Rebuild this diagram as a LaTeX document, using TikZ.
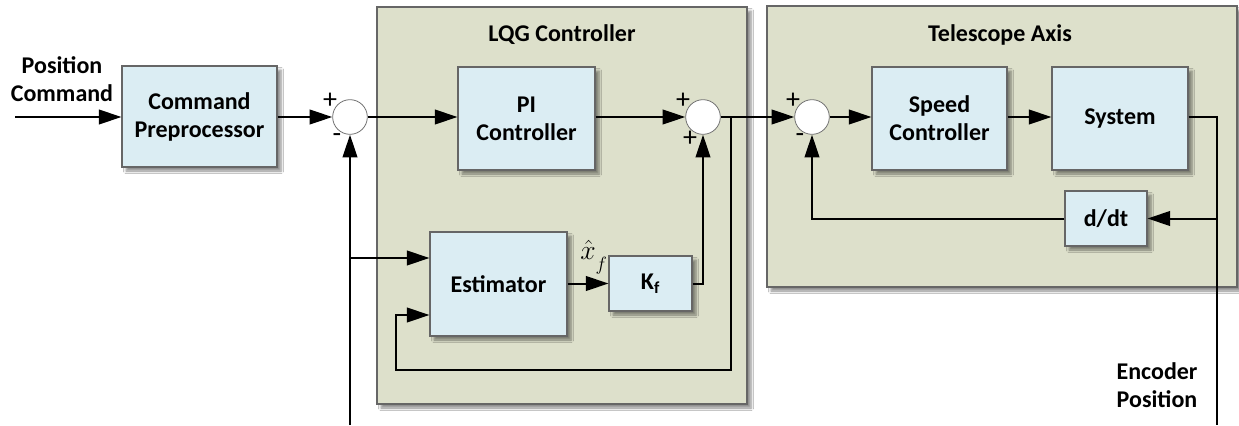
\documentclass[tikz,border=0pt]{standalone}
\usepackage{fontspec}
\setmainfont{Carlito}
\usetikzlibrary{arrows.meta,shadows.blur,calc}
\definecolor{boxblue}{RGB}{219,237,243}
\definecolor{panelgreen}{RGB}{221,224,203}
\begin{document}
\begin{tikzpicture}[x=0.75pt,y=-0.75pt,
  lbl/.style={font=\fontsize{18}{21}\selectfont\bfseries, align=center},
  box/.style={draw=black!60, line width=0.8pt, fill=boxblue, inner sep=0pt, align=center,
    font=\fontsize{18}{21}\selectfont\bfseries,
    blur shadow={shadow xshift=3pt, shadow yshift=-3pt, shadow blur steps=6, shadow opacity=45}},
  panel/.style={draw=black!60, line width=0.8pt, fill=panelgreen, inner sep=0pt,
    blur shadow={shadow xshift=3pt, shadow yshift=-3pt, shadow blur steps=6, shadow opacity=45}},
  sum/.style={circle, draw=black!55, line width=0.6pt, fill=white, minimum size=26pt, inner sep=0pt},
  sig/.style={line width=1.5pt, -{Triangle[length=17pt,width=11pt]}},
  wire/.style={line width=1.5pt},
  sgn/.style={font=\fontsize{21}{21}\selectfont, inner sep=0pt}
]
\useasboundingbox (0,0) rectangle (1239,425);
\fill[white] (0,0) rectangle (1239,425);

% panels
\node[panel, minimum width=277.5pt, minimum height=297.75pt] (lqg) at (562,205.5) {};
\node[panel, minimum width=352.5pt, minimum height=210.75pt] (tel) at (1002,146.5) {};
\node[lbl] (lqgt) at (562,35) {LQG Controller};
\node[lbl] (telt) at (1000,35) {Telescope Axis};

% blocks
\node[box, minimum width=116.25pt, minimum height=75.75pt] (cp) at (199.5,116.5) {Command\\Preprocessor};
\node[box, minimum width=102.75pt, minimum height=77.25pt] (pi) at (526.5,118.5) {PI\\Controller};
\node[box, minimum width=102.75pt, minimum height=78pt] (est) at (498.5,284) {Estimator};
\node[box, minimum width=62.25pt, minimum height=41.25pt] (kf) at (650.5,283.5) {K\textsubscript{f}};
\node[box, minimum width=101.25pt, minimum height=77.25pt] (sc) at (939.5,118.5) {Speed\\Controller};
\node[box, minimum width=102pt, minimum height=77.25pt] (sys) at (1120,118.5) {System};
\node[box, minimum width=61.5pt, minimum height=41.25pt] (ddt) at (1106,218.5) {d/dt};

% summing junctions
\node[sum] (s1) at (350,117) {};
\node[sum] (s2) at (703,117) {};
\node[sum] (s3) at (812,117) {};

% signs
\node[sgn] (s1p) at (330,101) {+};
\node[sgn] (s1m) at (337,138) {-};
\node[sgn] (s2p) at (683,101) {+};
\node[sgn] (s2q) at (690,139) {+};
\node[sgn] (s3p) at (793,101) {+};
\node[sgn] (s3m) at (800,138) {-};

% labels
\node[lbl] (poscmd) at (62,79) {Position\\Command};
\node[lbl] (encpos) at (1157,385) {Encoder\\Position};
\node[inner sep=0pt] (xhat) at (594,257) {\fontsize{22}{22}\selectfont$\hat{x}_{\raisebox{-5pt}{$\scriptstyle f$}}$};

% coordinates
\coordinate (in) at (15,117);
\coordinate (botR) at (1217,425);
\coordinate (botL) at (350,425);
\coordinate (e1) at (350,258);
\coordinate (j2) at (731,117);
\coordinate (lbR) at (731,370);
\coordinate (lbL) at (396,370);
\coordinate (lbU) at (396,315);

% connectors
\draw[sig] (in) -- (cp.west |- in);
\draw[sig] (cp.east |- s1) -- (s1.west);
\draw[sig] (s1.east) -- (pi.west |- s1);
\draw[sig] (pi.east |- s2) -- (s2.west);
\draw[sig] (s2.east) -- (s3.west);
\draw[sig] (s3.east) -- (sc.west |- s3);
\draw[sig] (sc.east |- s3) -- (sys.west |- s3);
\draw[wire] (sys.east |- s3) -| (botR);
\draw[sig] (ddt.east -| botR) -- (ddt.east);
\draw[sig] (ddt.west) -| (s3.south);
\draw[sig] (botL) -- (s1.south);
\draw[sig] (e1) -- (est.west |- e1);
\draw[sig] (j2) -- (lbR) -- (lbL) -- (lbU) -- (est.west |- lbU);
\draw[sig] (est.east |- kf) -- (kf.west);
\draw[sig] (kf.east) -| (s2.south);
\end{tikzpicture}
\end{document}
